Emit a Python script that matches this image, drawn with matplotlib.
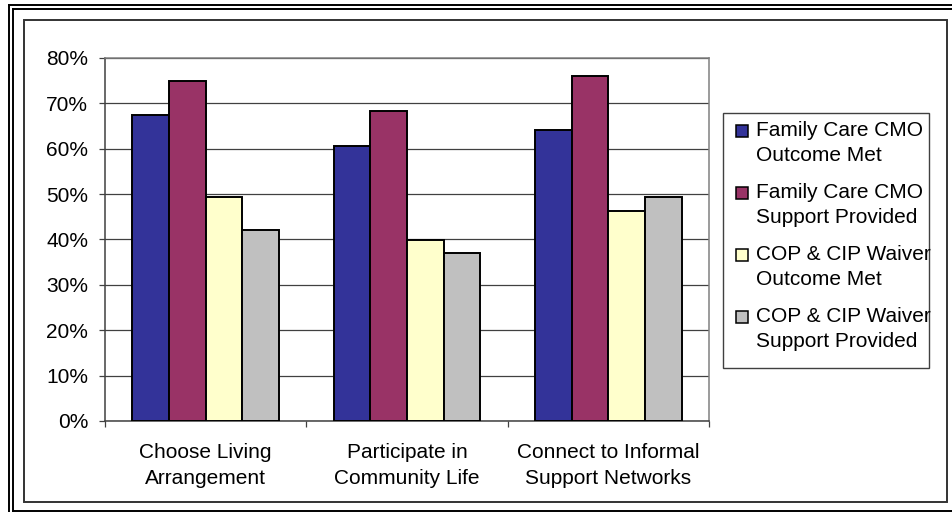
import matplotlib.pyplot as plt
import numpy as np
from matplotlib.lines import Line2D
from matplotlib.patches import Rectangle

plt.rcParams['font.family'] = ['Liberation Sans', 'DejaVu Sans']

# Outcome data (percent of members)
categories = ['Choose Living\nArrangement', 'Participate in\nCommunity Life',
              'Connect to Informal\nSupport Networks']
series_names = ['Family Care CMO\nOutcome Met', 'Family Care CMO\nSupport Provided',
                'COP & CIP Waiver\nOutcome Met', 'COP & CIP Waiver\nSupport Provided']
cmo_outcome = [67.5, 60.7, 64.1]
cmo_support = [75.0, 68.3, 76.1]
waiver_outcome = [49.3, 39.9, 46.2]
waiver_support = [42.0, 37.0, 49.3]
colors = ['#333399', '#993366', '#FFFFCC', '#C0C0C0']
yticks = [0, 10, 20, 30, 40, 50, 60, 70, 80]

W, H = 952, 512
fig = plt.figure(figsize=(W / 100, H / 100), dpi=100)


def fx(px):
    return px / W


def fy(py):
    return 1 - py / H


# plot area
ax = fig.add_axes([fx(105), fy(421), fx(709) - fx(105), fy(58) - fy(421)])

series = [cmo_outcome, cmo_support, waiver_outcome, waiver_support]
x = np.arange(len(categories))
w = 1 / 5.5
for i, (vals, col) in enumerate(zip(series, colors)):
    ax.bar(x + (i - 1.5) * w, vals, width=w, color=col, edgecolor='black',
           linewidth=1.4, zorder=3)

ax.set_xlim(-0.5, len(categories) - 0.5)
ax.set_ylim(0, 80)
ax.set_yticks(yticks)
ax.set_yticklabels([f'{t}%' for t in yticks], fontsize=15)
ax.yaxis.grid(True, color='#404040', linewidth=0.9, zorder=0)

ax.set_xticks(x)
ax.set_xticklabels(categories, fontsize=15, linespacing=1.45)
ax.tick_params(axis='x', length=0, pad=16)
ax.set_xticks(np.arange(len(categories) + 1) - 0.5, minor=True)
ax.tick_params(axis='x', which='minor', length=4, width=0.9, color='#404040')
ax.tick_params(axis='y', length=4, width=0.9, color='#404040', pad=8)

for side in ['left', 'bottom']:
    ax.spines[side].set_color('#404040')
    ax.spines[side].set_linewidth(1.1)
for side in ['right', 'top']:
    ax.spines[side].set_color('#808080')
    ax.spines[side].set_linewidth(1.1)

# legend, laid out by hand so the long labels run past the box as in Excel
fig.add_artist(Rectangle((fx(722.7), fy(367.7)), fx(929.3) - fx(722.7),
                         fy(112.7) - fy(367.7), transform=fig.transFigure,
                         facecolor='white', edgecolor='#404040', linewidth=1.0))
for i, (name, col) in enumerate(zip(series_names, colors)):
    yc = 131 + i * 62
    fig.add_artist(Rectangle((fx(736), fy(yc + 6)), fx(12), 12 / H,
                             transform=fig.transFigure, facecolor=col,
                             edgecolor='black', linewidth=1.1))
    fig.text(fx(756), fy(yc - 10), name, fontsize=15, va='top', ha='left',
             linespacing=1.4)

# chart area border
fig.add_artist(Rectangle((fx(23.5), fy(501.5)), fx(947) - fx(23.5),
                         fy(19.5) - fy(501.5), transform=fig.transFigure,
                         fill=False, edgecolor='#333333', linewidth=1.4))

# double frame around the whole graphic
frame = [((8.5, 952), (4.5, 4.5)), ((12.5, 952), (8.5, 8.5)),
         ((8.5, 8.5), (4.5, 512)), ((12.5, 12.5), (8.5, 510.5)),
         ((12.5, 952), (510.5, 510.5))]
for xs, ys in frame:
    fig.add_artist(Line2D([fx(v) for v in xs], [fy(v) for v in ys],
                          transform=fig.transFigure, color='black', linewidth=1.4))

plt.savefig('out.png', dpi=100)
